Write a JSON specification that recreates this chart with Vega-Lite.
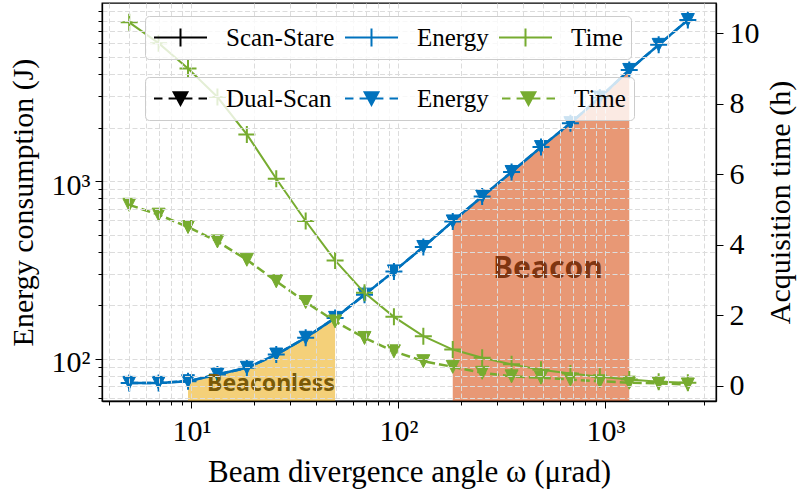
{
  "$schema": "https://vega.github.io/schema/vega-lite/v6.json",
  "width": 614,
  "height": 398,
  "autosize": {"type": "none"},
  "padding": {"left": 102, "top": 3, "right": 81, "bottom": 90},
  "background": "white",
  "config": {
    "view": {"stroke": "black", "strokeWidth": 1.3},
    "axis": {
      "labelFont": "Liberation Serif",
      "labelColor": "black",
      "titleFont": "Liberation Serif",
      "titleColor": "black",
      "titleFontWeight": "normal",
      "tickColor": "black",
      "tickWidth": 1,
      "domainColor": "black",
      "domainWidth": 1.3,
      "grid": true,
      "gridColor": "#dcdcdc",
      "gridDash": [5, 2.5],
      "gridWidth": 1,
      "labelOverlap": false,
      "labelFlush": false,
      "labelBound": false
    },
    "legend": {
      "orient": "none",
      "direction": "horizontal",
      "columns": 3,
      "labelFont": "Liberation Serif",
      "labelFontSize": 25,
      "labelColor": "black",
      "labelOffset": 18,
      "labelLimit": 400,
      "symbolSize": 2809,
      "symbolStrokeWidth": 2,
      "symbolOpacity": 1,
      "columnPadding": 9,
      "padding": 8,
      "clipHeight": 27,
      "fillColor": "rgba(255,255,255,0.8)",
      "strokeColor": "#cccccc",
      "cornerRadius": 4,
      "zindex": 2
    }
  },
  "datasets": {
    "d": [
      {"w": 5, "m": "Scan-Stare", "E": 73.2, "T": 10.31, "r": ""},
      {"w": 6.936, "m": "Scan-Stare", "E": 73.2, "T": 9.72, "r": ""},
      {"w": 9.62, "m": "Scan-Stare", "E": 74.8, "T": 9.0, "r": "Beaconless"},
      {"w": 13.344, "m": "Scan-Stare", "E": 81.6, "T": 8.19, "r": "Beaconless"},
      {"w": 18.51, "m": "Scan-Stare", "E": 89.0, "T": 7.13, "r": "Beaconless"},
      {"w": 25.676, "m": "Scan-Stare", "E": 105.7, "T": 5.87, "r": "Beaconless"},
      {"w": 35.615, "m": "Scan-Stare", "E": 131.3, "T": 4.67, "r": "Beaconless"},
      {"w": 49.402, "m": "Scan-Stare", "E": 169.9, "T": 3.55, "r": "Beaconless"},
      {"w": 68.527, "m": "Scan-Stare", "E": 229.6, "T": 2.63, "r": ""},
      {"w": 95.054, "m": "Scan-Stare", "E": 310.3, "T": 1.95, "r": ""},
      {"w": 131.85, "m": "Scan-Stare", "E": 425.8, "T": 1.40, "r": ""},
      {"w": 182.89, "m": "Scan-Stare", "E": 593, "T": 1.02, "r": "Beacon"},
      {"w": 253.69, "m": "Scan-Stare", "E": 818, "T": 0.79, "r": "Beacon"},
      {"w": 351.9, "m": "Scan-Stare", "E": 1125, "T": 0.60, "r": "Beacon"},
      {"w": 488.13, "m": "Scan-Stare", "E": 1553, "T": 0.45, "r": "Beacon"},
      {"w": 677.09, "m": "Scan-Stare", "E": 2118, "T": 0.34, "r": "Beacon"},
      {"w": 939.21, "m": "Scan-Stare", "E": 2951, "T": 0.25, "r": "Beacon"},
      {"w": 1302.8, "m": "Scan-Stare", "E": 4218, "T": 0.17, "r": "Beacon"},
      {"w": 1807.2, "m": "Scan-Stare", "E": 5838, "T": 0.11, "r": ""},
      {"w": 2500, "m": "Scan-Stare", "E": 8054, "T": 0.08, "r": ""},
      {"w": 5, "m": "Dual-Scan", "E": 73.2, "T": 5.13, "r": ""},
      {"w": 6.936, "m": "Dual-Scan", "E": 73.2, "T": 4.85, "r": ""},
      {"w": 9.62, "m": "Dual-Scan", "E": 74.8, "T": 4.50, "r": ""},
      {"w": 13.344, "m": "Dual-Scan", "E": 81.6, "T": 4.09, "r": ""},
      {"w": 18.51, "m": "Dual-Scan", "E": 89.0, "T": 3.57, "r": ""},
      {"w": 25.676, "m": "Dual-Scan", "E": 105.7, "T": 2.96, "r": ""},
      {"w": 35.615, "m": "Dual-Scan", "E": 131.3, "T": 2.37, "r": ""},
      {"w": 49.402, "m": "Dual-Scan", "E": 169.9, "T": 1.82, "r": ""},
      {"w": 68.527, "m": "Dual-Scan", "E": 229.6, "T": 1.35, "r": ""},
      {"w": 95.054, "m": "Dual-Scan", "E": 310.3, "T": 0.97, "r": ""},
      {"w": 131.85, "m": "Dual-Scan", "E": 425.8, "T": 0.69, "r": ""},
      {"w": 182.89, "m": "Dual-Scan", "E": 593, "T": 0.53, "r": ""},
      {"w": 253.69, "m": "Dual-Scan", "E": 818, "T": 0.36, "r": ""},
      {"w": 351.9, "m": "Dual-Scan", "E": 1125, "T": 0.26, "r": ""},
      {"w": 488.13, "m": "Dual-Scan", "E": 1553, "T": 0.22, "r": ""},
      {"w": 677.09, "m": "Dual-Scan", "E": 2118, "T": 0.17, "r": ""},
      {"w": 939.21, "m": "Dual-Scan", "E": 2951, "T": 0.12, "r": ""},
      {"w": 1302.8, "m": "Dual-Scan", "E": 4218, "T": 0.08, "r": ""},
      {"w": 1807.2, "m": "Dual-Scan", "E": 5838, "T": 0.06, "r": ""},
      {"w": 2500, "m": "Dual-Scan", "E": 8054, "T": 0.03, "r": ""}
    ],
    "notes": [
      {"w": 24.2, "E": 71.8, "label": "Beaconless"},
      {"w": 527, "E": 321, "label": "Beacon"}
    ],
    "leg1": [{"k": "Scan-Stare"}, {"k": "Energy"}, {"k": "Time"}],
    "leg2": [{"k": "Dual-Scan"}, {"k": "Energy"}, {"k": "Time"}]
  },
  "layer": [
    {
      "data": {"name": "d"},
      "encoding": {
        "x": {
          "field": "w", "type": "quantitative",
          "scale": {"type": "log", "domain": [3.695, 3420], "nice": false},
          "axis": {
            "title": "Beam divergence angle ω (μrad)",
            "titleFontSize": 31,
            "titlePadding": 11,
            "values": [4, 5, 6, 7, 8, 9, 10, 20, 30, 40, 50, 60, 70, 80, 90, 100, 200, 300, 400, 500, 600, 700, 800, 900, 1000, 2000, 3000],
            "labelExpr": "datum.value == 10 ? '10¹' : datum.value == 100 ? '10²' : datum.value == 1000 ? '10³' : ''",
            "labelFontSize": 30,
            "labelPadding": 8,
            "tickSize": {"condition": {"test": "datum.value == 10 || datum.value == 100 || datum.value == 1000", "value": 7}, "value": 4},
            "zindex": 1
          }
        },
        "y": {
          "field": "E", "type": "quantitative",
          "scale": {"type": "log", "domain": [57.9, 10040], "nice": false},
          "axis": {
            "orient": "left",
            "title": "Energy consumption (J)",
            "titleFontSize": 30,
            "titlePadding": 13,
            "values": [60, 70, 80, 90, 100, 200, 300, 400, 500, 600, 700, 800, 900, 1000, 2000, 3000, 4000, 5000, 6000, 7000, 8000, 9000],
            "labelExpr": "datum.value == 100 ? '10²' : datum.value == 1000 ? '10³' : ''",
            "labelFontSize": 30,
            "labelPadding": 5,
            "labelOffset": 4,
            "tickSize": {"condition": {"test": "datum.value == 100 || datum.value == 1000", "value": 7}, "value": 4},
            "zindex": 1
          }
        }
      },
      "layer": [
        {
          "transform": [{"filter": {"field": "r", "equal": "Beaconless"}}],
          "mark": {"type": "area", "color": "#EDB120", "opacity": 0.6},
          "encoding": {"y2": {"datum": 57.9}}
        },
        {
          "transform": [{"filter": {"field": "r", "equal": "Beacon"}}],
          "mark": {"type": "area", "color": "#D95319", "opacity": 0.6},
          "encoding": {"y2": {"datum": 57.9}}
        },
        {
          "transform": [{"filter": {"field": "m", "equal": "Scan-Stare"}}],
          "mark": {"type": "line", "color": "#0072BD", "strokeWidth": 2.5}
        },
        {
          "transform": [{"filter": {"field": "m", "equal": "Dual-Scan"}}],
          "mark": {"type": "line", "color": "#0072BD", "strokeWidth": 2.5, "strokeDash": [9, 4]}
        },
        {
          "transform": [{"filter": {"field": "m", "equal": "Scan-Stare"}}],
          "mark": {"type": "point", "shape": "M-1,0H1M0,-1V1", "size": 289, "filled": false, "color": "#0072BD", "strokeWidth": 2, "opacity": 1}
        },
        {
          "transform": [{"filter": {"field": "m", "equal": "Dual-Scan"}}],
          "mark": {"type": "point", "shape": "M-1,-1H1L0,1Z", "size": 169, "filled": true, "color": "#0072BD", "stroke": "#0072BD", "strokeWidth": 1, "opacity": 1}
        },
        {
          "data": {"name": "notes"},
          "transform": [{"filter": {"field": "label", "equal": "Beaconless"}}],
          "mark": {"type": "text", "font": "Noto Sans", "fontWeight": "bold", "fontSize": 23, "color": "#7a5a08", "align": "center", "baseline": "middle"},
          "encoding": {"text": {"field": "label"}}
        },
        {
          "data": {"name": "notes"},
          "transform": [{"filter": {"field": "label", "equal": "Beacon"}}],
          "mark": {"type": "text", "font": "Noto Sans", "fontWeight": "bold", "fontSize": 30, "color": "#7f3511", "align": "center", "baseline": "middle"},
          "encoding": {"text": {"field": "label"}}
        }
      ]
    },
    {
      "data": {"name": "d"},
      "encoding": {
        "x": {
          "field": "w", "type": "quantitative",
          "scale": {"type": "log", "domain": [3.695, 3420], "nice": false},
          "axis": {
            "title": "Beam divergence angle ω (μrad)",
            "titleFontSize": 31,
            "titlePadding": 11,
            "values": [4, 5, 6, 7, 8, 9, 10, 20, 30, 40, 50, 60, 70, 80, 90, 100, 200, 300, 400, 500, 600, 700, 800, 900, 1000, 2000, 3000],
            "labelExpr": "datum.value == 10 ? '10¹' : datum.value == 100 ? '10²' : datum.value == 1000 ? '10³' : ''",
            "labelFontSize": 30,
            "labelPadding": 8,
            "tickSize": {"condition": {"test": "datum.value == 10 || datum.value == 100 || datum.value == 1000", "value": 7}, "value": 4},
            "zindex": 1
          }
        },
        "y": {
          "field": "T", "type": "quantitative",
          "scale": {"domain": [-0.44, 10.86], "nice": false, "zero": false},
          "axis": {
            "orient": "right",
            "title": "Acquisition time (h)",
            "titleFontSize": 30,
            "titleAngle": 270,
            "titleBaseline": "top",
            "titlePadding": 6,
            "values": [0, 2, 4, 6, 8, 10],
            "labelFontSize": 30,
            "labelPadding": 6,
            "tickSize": 7,
            "zindex": 1
          }
        }
      },
      "layer": [
        {
          "transform": [{"filter": {"field": "m", "equal": "Scan-Stare"}}],
          "mark": {"type": "line", "color": "#77AC30", "strokeWidth": 2}
        },
        {
          "transform": [{"filter": {"field": "m", "equal": "Dual-Scan"}}],
          "mark": {"type": "line", "color": "#77AC30", "strokeWidth": 2.5, "strokeDash": [9, 4]}
        },
        {
          "transform": [{"filter": {"field": "m", "equal": "Scan-Stare"}}],
          "mark": {"type": "point", "shape": "M-1,0H1M0,-1V1", "size": 289, "filled": false, "color": "#77AC30", "strokeWidth": 2, "opacity": 1}
        },
        {
          "transform": [{"filter": {"field": "m", "equal": "Dual-Scan"}}],
          "mark": {"type": "point", "shape": "M-1,-1H1L0,1Z", "size": 169, "filled": true, "color": "#77AC30", "stroke": "#77AC30", "strokeWidth": 1, "opacity": 1}
        }
      ]
    },
    {
      "data": {"name": "leg1"},
      "transform": [{"filter": "datum.k == 'none'"}],
      "mark": {"type": "point", "filled": false},
      "encoding": {
        "shape": {
          "field": "k", "type": "nominal",
          "scale": {"domain": ["Scan-Stare", "Energy", "Time"], "range": ["M-1,0H1M0,-0.34V0.34", "M-1,0H1M0,-0.34V0.34", "M-1,0H1M0,-0.34V0.34"]},
          "legend": {"legendX": 43, "legendY": 13, "title": null}
        },
        "stroke": {
          "field": "k", "type": "nominal",
          "scale": {"domain": ["Scan-Stare", "Energy", "Time"], "range": ["black", "#0072BD", "#77AC30"]},
          "legend": {"legendX": 43, "legendY": 13, "title": null}
        }
      }
    },
    {
      "data": {"name": "leg2"},
      "transform": [{"filter": "datum.k == 'none'"}],
      "mark": {"type": "point", "filled": true},
      "encoding": {
        "shape": {
          "field": "k", "type": "nominal",
          "scale": {"domain": ["Dual-Scan", "Energy", "Time"], "range": ["M-1,0H-0.68M-0.45,0H-0.15M0.15,0H0.45M0.68,0H1M-0.26,-0.24H0.26L0,0.24Z", "M-1,0H-0.68M-0.45,0H-0.15M0.15,0H0.45M0.68,0H1M-0.26,-0.24H0.26L0,0.24Z", "M-1,0H-0.68M-0.45,0H-0.15M0.15,0H0.45M0.68,0H1M-0.26,-0.24H0.26L0,0.24Z"]},
          "legend": {"legendX": 43, "legendY": 74, "title": null, "columnPadding": 12}
        },
        "stroke": {
          "field": "k", "type": "nominal",
          "scale": {"domain": ["Dual-Scan", "Energy", "Time"], "range": ["black", "#0072BD", "#77AC30"]},
          "legend": {"legendX": 43, "legendY": 74, "title": null, "columnPadding": 12}
        },
        "fill": {
          "field": "k", "type": "nominal",
          "scale": {"domain": ["Dual-Scan", "Energy", "Time"], "range": ["black", "#0072BD", "#77AC30"]},
          "legend": {"legendX": 43, "legendY": 74, "title": null, "columnPadding": 12}
        }
      }
    }
  ],
  "resolve": {"scale": {"y": "independent", "shape": "independent", "stroke": "independent", "fill": "independent"}}
}
